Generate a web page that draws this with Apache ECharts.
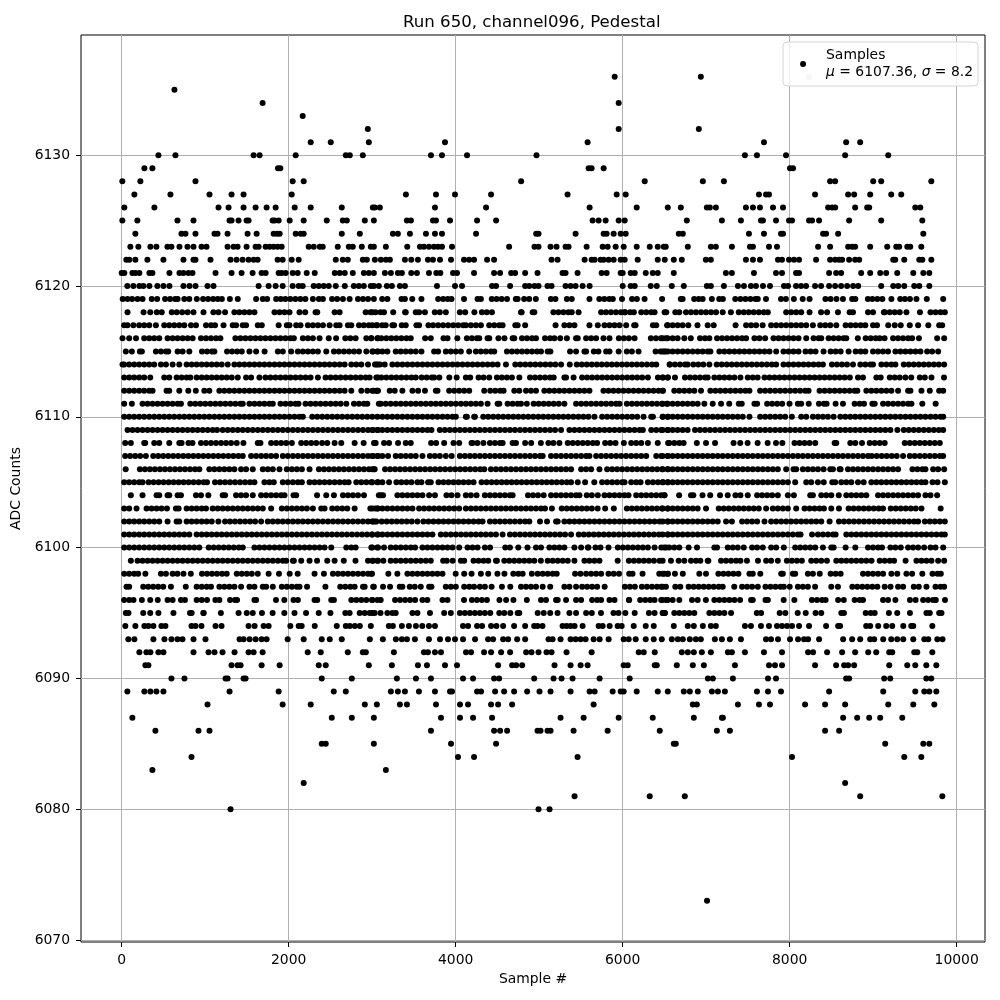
<!DOCTYPE html>
<html><head><meta charset="utf-8">
<style>html,body{margin:0;padding:0;background:#fff}#c{width:1000px;height:1000px}</style>
<script src="https://cdn.jsdelivr.net/npm/echarts@6/dist/echarts.min.js"></script>
</head><body><div id="c"></div>
<script>
// Sample positions, one list per ADC level. Isolated dots are read individually;
// inside solid bands, where dots overlap, individual samples cannot be told apart, so positions are estimates.
const xTicks=[0,2000,4000,6000,8000,10000];
const yTicks=[6070,6080,6090,6100,6110,6120,6130];
const s6136=[5904,6936];
const s6135=[632];
const s6134=[1688,5952];
const s6133=[2168];
const s6132=[2948,5952,6912];
const s6131=[2264,2504,2960,3872,5580,7692,8676,8844];
const s6130=[440,644,1580,1652,2084,2684,2732,2888,3704,3836,4136,4968,7464,7608,7956,8664,9180];
const s6129=[272,368,1872,1900,5592,5628,5772,8004,8040];
const s6128=[8,224,884,2048,2180,4784,6264,6960,7212,8484,8544,9000,9096,9696];
const s6127=[152,584,1052,1316,1460,2036,3404,3764,3992,4424,5340,5928,6036,7632,7716,7752,8304,8700,8772,8964,9216,9336];
const s6126=[32,392,1160,1280,1460,1604,1736,1844,2072,2264,2636,3008,3032,3092,3752,4364,5604,6168,6540,6696,7008,7044,7116,7476,7560,7644,7800,7920,8460,8508,8544,8784,8928,8952,9504,9564];
const s6125=[8,188,668,860,1292,1316,1400,1496,1520,1808,1832,1880,2012,2180,2456,2648,2696,2912,3020,3416,3464,3728,3764,3932,4256,4484,5640,5712,5796,5952,6024,6768,7188,7416,7656,7680,7836,7992,8028,8232,8268,8352,8712,9096,9588];
const s6124=[164,716,764,884,1112,1148,1268,1508,1616,1820,1860,1892,2084,2144,2180,2636,2852,3248,3308,3452,3644,3752,3836,4244,4964,4992,5436,5772,5808,5892,5976,6036,6672,6720,7512,7692,7896,7920,8400,8436,8580,9600];
const s6123=[104,200,344,416,548,596,692,788,860,956,1016,1268,1340,1388,1496,1604,1640,1724,1772,1820,1868,1916,2240,2300,2372,2408,2588,2720,2768,2876,2984,3020,3164,3420,3572,3620,3680,3740,3788,3836,3956,4640,4944,4992,5136,5208,5316,5352,5568,5760,5820,5916,6012,6168,6324,6420,6492,6516,6780,7056,7116,7308,7524,7560,7752,7848,8340,8484,8700,8748,8784,8964,9168,9276,9312,9408,9444,9576];
const s6122=[56,92,164,308,500,740,860,884,1064,1304,1376,1448,1520,1580,1628,1868,1928,2036,2120,2564,2648,2708,2888,2936,3032,3104,3164,3212,3392,3468,3548,3668,3728,3812,3944,4100,4160,4220,4376,4460,5148,5220,5544,5628,5664,5736,5772,5832,5892,5976,6024,6180,6420,6504,6612,6708,6996,7056,7476,7560,7644,7860,7908,7992,8052,8112,8316,8484,8544,8592,8628,8712,8784,8832,9240,9264,9372,9552,9588,9696];
const s6121=[0,32,128,164,212,332,368,572,692,740,800,848,1124,1316,1436,1568,1676,1724,1880,1916,1964,2048,2108,2216,2312,2552,2612,2672,2768,2900,2960,3020,3152,3224,3308,3356,3468,3536,3680,3768,3816,3968,4016,4220,4460,4532,4664,4712,4832,4980,5280,5316,5460,5748,5808,5976,6000,6096,6144,6276,6360,6420,6612,7236,7308,7572,7836,7908,8076,8112,8472,8556,8616,8856,8964,9084,9156,9288,9480,9600,9672];
const s6120=[68,140,212,260,332,428,500,572,740,812,884,1028,1100,1640,1760,1844,1928,2048,2120,2168,2300,2360,2420,2480,2564,2672,2780,2840,2900,2984,3020,3080,3176,3236,3332,3392,3776,3992,4076,4436,4484,4652,4832,4880,4944,4992,5100,5148,5316,5376,5436,5520,5604,6000,6096,6144,6336,6408,6588,6732,7008,7056,7212,7380,7452,7536,7596,7680,7764,7932,7980,8076,8136,8196,8304,8376,8472,8544,8616,8688,8760,8820,9096,9240,9300,9372,9492,9552,9672];
const s6119=[12,70,125,190,250,360,425,520,580,640,670,750,810,900,975,1035,1095,1150,1200,1296,1390,1610,1690,1742,1850,1905,1960,2020,2080,2140,2200,2290,2362,2410,2520,2580,2650,2730,2830,2890,2950,3020,3120,3182,3352,3392,3480,3590,3790,3850,3905,3950,4100,4262,4302,4432,4490,4550,4615,4720,4742,4820,4880,4960,5140,5195,5332,5390,5602,5720,5780,5840,5882,5992,6112,6170,6262,6472,6696,6718,6856,6910,6958,7068,7156,7200,7348,7410,7470,7530,7590,7618,7716,7896,7955,8050,8156,8238,8428,8490,8560,8638,8748,8786,8936,8990,9050,9110,9218,9324,9380,9440,9518,9642,9838];
const s6118=[70,262,342,420,480,600,660,725,790,860,980,1098,1160,1238,1350,1410,1470,1530,1590,1830,1890,1950,2010,2130,2198,2322,2342,2550,2610,2922,2980,3040,3002,3100,3142,3252,3394,3402,3522,3562,3632,3750,3810,3882,4050,4114,4224,4314,4372,4434,4782,4790,4922,4942,5170,5230,5290,5350,5390,5472,5742,5800,5860,5920,5980,6022,6030,6090,6134,6222,6282,6342,6382,6502,6522,6630,6678,6758,6818,6878,6938,6998,7058,7118,7198,7296,7390,7450,7510,7570,7630,7690,7738,7958,8018,8078,8138,8238,8376,8448,8578,8718,8758,8938,8998,9128,9138,9198,9258,9318,9398,9560,9686,9746,9806,9858];
const s6117=[30,70,140,210,270,330,410,510,570,630,690,750,830,890,1010,1070,1118,1220,1330,1370,1450,1490,1630,1678,1880,1978,2010,2090,2142,2230,2290,2350,2410,2490,2570,2610,2710,2750,2842,2900,2960,3050,3002,3060,3120,3162,3242,3262,3354,3402,3530,3562,3674,3730,3790,3850,3910,3970,4030,4090,4122,4182,4242,4302,4402,4462,4522,4562,4714,4742,4832,5196,5302,5362,5422,5602,5702,5782,5842,5902,5962,6042,6138,6154,6362,6402,6532,6538,6598,6658,6718,6786,6896,7018,7090,7352,7478,7538,7598,7676,7778,7838,7898,7958,8018,8078,8138,8198,8278,8366,8426,8486,8558,8670,8730,8790,8850,8906,8998,9046,9180,9258,9330,9438,9538,9660,9790,9826];
const s6116=[10,90,172,270,330,390,450,550,610,670,730,790,850,950,1010,1070,1130,1182,1362,1422,1482,1542,1602,1662,1722,1782,1842,1902,1962,2022,2062,2170,2230,2290,2370,2480,2568,2678,2738,2802,2930,2990,3070,2990,3062,3110,3170,3230,3290,3350,3410,3462,3634,3702,3854,3902,4020,4134,4194,4254,4282,4382,4402,4512,4584,4682,4702,4794,4854,4914,4962,5070,5130,5182,5252,5332,5442,5462,5562,5622,5682,5770,5842,5954,6014,6074,6142,6338,6398,6458,6518,6478,6538,6598,6658,6738,6816,6926,6986,7038,7130,7190,7250,7310,7370,7430,7478,7578,7638,7706,7806,7866,7926,7986,8046,8106,8198,8286,8346,8378,8466,8526,8586,8646,8678,8816,8910,8970,9030,9078,9136,9238,9298,9358,9418,9466,9548,9766,9850];
const s6115=[50,122,218,242,410,470,530,558,670,730,810,962,1022,1082,1110,1262,1322,1382,1438,1530,1610,1712,1870,1930,2030,2110,2170,2230,2290,2350,2450,2542,2602,2662,2722,2782,2842,2930,3010,3070,3002,3062,3122,3182,3282,3342,3402,3462,3522,3590,3742,3790,3882,3942,4002,4062,4162,4242,4302,4362,4422,4462,4614,4674,4734,4794,4854,4914,4974,5022,5102,5134,5370,5442,5542,5562,5654,5710,5802,5842,5952,6050,6110,6190,6394,6454,6514,6542,6478,6498,6598,6658,6718,6778,6838,6898,6958,7018,7050,7158,7218,7278,7338,7398,7458,7518,7578,7638,7698,7758,7838,7926,7986,8046,8106,8190,8250,8310,8406,8490,8550,8610,8706,8790,8850,8906,8998,9058,9118,9178,9266,9326,9386,9446,9506,9566,9646,9706,9778];
const s6114=[10,30,90,150,210,270,330,390,470,530,610,690,778,838,898,958,1018,1078,1138,1198,1270,1350,1410,1470,1530,1590,1650,1710,1770,1830,1890,1950,2010,2070,2130,2190,2250,2310,2370,2430,2490,2550,2610,2670,2750,2810,2870,2950,3050,3070,3034,3094,3150,3242,3302,3362,3422,3482,3542,3602,3662,3722,3782,3842,3902,3962,4022,4082,4142,4202,4262,4322,4382,4442,4502,4602,4714,4774,4834,4894,4954,5014,5074,5134,5194,5262,5366,5450,5510,5570,5630,5690,5750,5810,5870,5930,5990,6050,6110,6170,6230,6290,6350,6402,6562,6566,6626,6686,6746,6778,6846,6906,6966,7038,7126,7186,7246,7306,7366,7426,7486,7546,7606,7666,7726,7786,7838,7926,7986,8046,8106,8166,8226,8286,8346,8398,8506,8566,8626,8686,8758,8846,8906,8966,8998,9098,9158,9218,9266,9366,9426,9486,9546,9606,9666,9726,9786,9850];
const s6113=[30,90,150,210,270,342,510,570,658,718,778,822,898,958,1018,1078,1138,1198,1258,1318,1390,1490,1550,1650,1722,1782,1842,1902,1962,2022,2082,2142,2202,2262,2350,2442,2502,2562,2622,2682,2742,2802,2862,2922,2970,3070,3050,3110,3170,3230,3290,3350,3410,3470,3522,3592,3652,3714,3742,3804,3924,4012,4122,4174,4274,4334,4402,4494,4554,4614,4674,4762,4890,4950,5010,5070,5130,5174,5302,5322,5412,5514,5574,5634,5694,5754,5814,5874,5934,5994,6054,6114,6174,6234,6302,6422,6482,6542,6478,6538,6626,6746,6806,6866,6926,6986,7018,7098,7158,7218,7278,7338,7410,7498,7558,7616,7698,7758,7818,7878,7938,7998,8058,8118,8178,8238,8298,8358,8418,8478,8538,8598,8658,8720,8818,8878,9038,9090,9198,9258,9318,9386,9456,9558,9618,9698,9848];
const s6112=[30,90,150,210,270,330,370,538,570,690,798,888,990,1050,1170,1230,1290,1350,1410,1470,1530,1590,1650,1710,1770,1830,1890,1950,2010,2070,2130,2190,2250,2310,2370,2430,2490,2550,2610,2670,2750,2870,2942,3018,3058,3070,3002,3054,3210,3270,3362,3482,3550,3632,3762,3782,3922,3982,4042,4102,4162,4342,4414,4474,4534,4574,4702,4762,4842,4902,4962,5062,5122,5182,5242,5302,5362,5422,5482,5542,5602,5770,5830,5890,5950,6010,6070,6130,6190,6250,6310,6370,6430,6482,6478,6618,6678,6738,6798,6858,6938,7050,7110,7170,7230,7290,7350,7410,7470,7518,7646,7706,7766,7826,7886,7946,8006,8066,8126,8186,8226,8358,8418,8478,8538,8598,8658,8718,8778,8810,8918,8978,9038,9098,9158,9218,9298,9418,9446,9578,9678,9790,9838];
const s6111=[30,122,250,310,370,430,490,550,610,670,710,822,882,942,1002,1062,1122,1182,1242,1302,1362,1422,1450,1530,1590,1650,1710,1770,1810,1902,1962,2022,2082,2118,2202,2262,2322,2382,2442,2502,2562,2622,2690,2782,2842,2902,2942,3080,3102,3162,3222,3282,3342,3402,3462,3522,3582,3642,3702,3762,3822,3882,3942,4002,4062,4122,4182,4242,4302,4382,4502,4522,4622,4682,4742,4782,4852,4934,4994,5054,5114,5174,5234,5302,5442,5502,5562,5622,5682,5742,5802,5862,5922,5962,6050,6110,6170,6230,6290,6350,6410,6470,6530,6478,6538,6598,6658,6718,6778,6838,6898,6978,7078,7178,7276,7390,7426,7578,7610,7730,7790,7850,7910,7998,8098,8138,8228,8350,8410,8442,8550,8638,8778,8838,8890,8990,9018,9118,9178,9238,9298,9358,9418,9458,9588,9748];
const s6110=[30,90,150,210,270,330,390,450,510,570,630,690,750,810,870,930,990,1050,1110,1170,1230,1290,1350,1410,1470,1530,1590,1650,1710,1770,1830,1890,1950,2010,2070,2130,2170,2282,2342,2402,2462,2522,2582,2642,2702,2762,2822,2882,2942,3002,3062,3122,3182,3242,3302,3362,3422,3482,3542,3602,3662,3722,3782,3842,3902,3962,4002,4122,4134,4222,4230,4330,4390,4450,4510,4570,4630,4690,4750,4810,4870,4930,4990,5050,5110,5170,5230,5290,5350,5410,5470,5530,5590,5662,5754,5814,5874,5934,5994,6054,6114,6174,6250,6342,6362,6482,6542,6478,6538,6598,6658,6718,6778,6838,6898,6958,7018,7078,7138,7198,7258,7318,7378,7438,7518,7646,7706,7766,7826,7886,7946,8026,8138,8198,8278,8338,8398,8458,8526,8606,8666,8726,8786,8846,8906,8966,9026,9086,9146,9206,9266,9326,9386,9446,9506,9566,9626,9686,9746,9806,9838];
const s6109=[70,130,190,250,310,370,430,490,550,610,670,730,790,850,910,970,1030,1090,1142,1210,1270,1330,1390,1450,1510,1570,1630,1690,1750,1810,1870,1930,1990,2050,2110,2170,2230,2290,2350,2410,2470,2530,2590,2650,2710,2770,2830,2890,2950,3010,3070,3002,3062,3122,3182,3242,3302,3362,3422,3482,3542,3602,3662,3710,3810,3870,3930,3990,4050,4110,4170,4230,4290,4350,4410,4470,4530,4590,4650,4710,4770,4830,4890,4950,5010,5070,5130,5190,5262,5362,5422,5482,5542,5602,5662,5722,5782,5842,5902,5962,6022,6082,6142,6202,6242,6342,6402,6462,6542,6478,6538,6598,6658,6718,6778,6866,6926,6986,7046,7106,7166,7226,7286,7346,7406,7466,7526,7586,7646,7706,7766,7826,7886,7946,8006,8066,8126,8186,8246,8306,8366,8426,8486,8546,8606,8666,8726,8786,8846,8906,8966,9026,9086,9146,9206,9290,9366,9426,9486,9546,9606,9666,9726,9786,9838];
const s6108=[42,110,270,282,390,450,570,690,718,800,848,950,1010,1070,1130,1190,1250,1310,1378,1458,1630,1662,1790,1850,1910,1970,2038,2150,2210,2270,2330,2400,2462,2550,2630,2790,2898,3042,3022,3030,3142,3202,3310,3402,3462,3706,3766,3862,3974,4042,4202,4190,4260,4332,4410,4470,4530,4562,4682,4722,4832,4904,5020,5110,5170,5242,5342,5402,5462,5522,5582,5642,5694,5790,5850,5914,6014,6102,6162,6222,6302,6420,6544,6558,6618,6678,6730,6888,6998,7106,7328,7408,7496,7616,7736,7836,7912,8058,8118,8178,8238,8306,8538,8558,8726,8786,8866,8958,9018,9078,9138,9378,9438,9498,9558,9618,9678,9738,9798];
const s6107=[42,102,162,222,290,378,438,498,558,618,678,738,798,858,918,978,1038,1098,1158,1218,1278,1338,1398,1450,1550,1610,1670,1730,1790,1850,1930,1990,2050,2110,2170,2230,2290,2350,2410,2470,2530,2590,2650,2710,2770,2830,2890,2950,3010,3070,3002,3062,3122,3190,3282,3342,3402,3462,3522,3602,3690,3750,3810,3882,3952,4050,4110,4170,4230,4290,4350,4410,4470,4530,4590,4650,4710,4770,4830,4890,4950,5010,5042,5142,5202,5262,5322,5382,5442,5502,5562,5602,5682,5742,5802,5862,5922,5982,6042,6102,6162,6222,6282,6402,6462,6542,6478,6538,6598,6658,6718,6778,6838,6898,6958,7018,7078,7138,7198,7258,7318,7378,7438,7498,7558,7618,7678,7738,7798,7858,7918,7978,8038,8098,8158,8218,8278,8338,8398,8458,8518,8578,8638,8698,8758,8818,8878,8938,8982,9042,9102,9162,9222,9282,9358,9438,9498,9558,9618,9678,9738,9798,9838];
const s6106=[48,218,278,338,398,458,518,578,638,698,758,818,878,930,1050,1110,1170,1230,1290,1350,1430,1490,1570,1690,1750,1810,1890,1978,2038,2098,2158,2250,2362,2422,2482,2542,2602,2662,2722,2782,2842,2902,2962,3030,3002,3022,3154,3214,3274,3334,3394,3454,3514,3574,3634,3694,3754,3814,3874,3934,3994,4054,4114,4174,4234,4294,4342,4422,4482,4542,4602,4662,4722,4782,4842,4902,4962,5022,5082,5142,5202,5262,5322,5382,5502,5562,5622,5722,5814,5874,5934,5994,6054,6114,6174,6234,6294,6354,6414,6474,6542,6478,6538,6598,6658,6718,6778,6838,6898,6958,7018,7078,7138,7198,7258,7318,7378,7438,7498,7558,7618,7678,7738,7798,7858,7958,8046,8078,8158,8218,8278,8338,8406,8486,8518,8598,8610,8698,8758,8818,8878,8938,8998,9058,9118,9178,9238,9298,9470,9530,9590,9626,9718,9778,9850];
const s6105=[30,90,150,210,250,322,382,442,502,562,622,682,742,802,862,922,982,1022,1118,1178,1238,1298,1358,1418,1478,1538,1590,1710,1770,1822,1930,1990,2050,2110,2158,2250,2310,2370,2430,2490,2550,2610,2670,2718,2810,2870,2930,2990,3070,3002,3062,3122,3202,3290,3350,3410,3470,3542,3590,3670,3702,3794,3854,3914,3974,4034,4094,4154,4214,4310,4370,4430,4490,4550,4610,4670,4730,4790,4850,4910,4970,5030,5090,5150,5210,5270,5330,5382,5462,5550,5660,5754,5814,5874,5934,5994,6022,6102,6162,6214,6302,6362,6422,6482,6542,6478,6538,6598,6658,6718,6778,6838,6898,6958,7018,7078,7138,7198,7258,7318,7378,7438,7498,7558,7618,7678,7738,7798,7858,7918,7978,8066,8198,8258,8338,8408,8510,8546,8618,8678,8738,8818,8886,8978,9038,9098,9158,9218,9278,9338,9398,9458,9518,9578,9626,9710,9770,9858];
const s6104=[110,250,418,450,550,570,670,710,890,950,1038,1210,1238,1370,1430,1490,1570,1670,1730,1790,1850,1910,1950,2058,2090,2340,2450,2542,2650,2710,2770,2830,2902,3080,3102,3130,3302,3362,3422,3482,3542,3602,3682,3752,3890,3950,4022,4122,4182,4250,4350,4410,4470,4530,4590,4650,4682,4866,4926,4986,5054,5142,5202,5262,5322,5382,5442,5482,5570,5630,5702,5782,5842,5902,5962,6022,6070,6162,6222,6282,6342,6402,6462,6502,6498,6676,6818,6846,6956,7048,7166,7258,7350,7410,7498,7610,7670,7730,7790,7858,7978,8050,8246,8278,8378,8438,8498,8588,8678,8738,8798,8858,8918,9058,9118,9178,9238,9298,9358,9418,9478,9538,9626,9686,9766];
const s6103=[30,90,178,298,358,418,478,542,650,682,778,838,898,958,1010,1090,1150,1210,1270,1330,1390,1450,1510,1570,1630,1690,1790,1918,1978,2038,2098,2158,2218,2290,2390,2430,2522,2582,2642,2702,2790,2978,3038,3070,3002,3062,3122,3182,3242,3302,3362,3422,3482,3562,3622,3682,3742,3802,3862,3922,3982,4042,4122,4182,4242,4302,4362,4422,4482,4542,4602,4662,4722,4782,4842,4902,4962,5022,5070,5152,5270,5330,5390,5450,5510,5570,5630,5700,5790,5894,6050,6110,6170,6230,6290,6350,6410,6470,6542,6478,6538,6598,6658,6718,6778,6838,6898,6998,7150,7210,7270,7330,7390,7450,7510,7570,7630,7718,7798,7858,7918,7978,8078,8178,8238,8298,8358,8410,8498,8590,8706,8766,8826,8886,8946,9006,9066,9118,9210,9270,9330,9390,9450,9510,9578,9808];
const s6102=[30,90,150,210,270,330,390,450,550,658,690,778,838,898,958,1018,1078,1158,1238,1298,1358,1418,1478,1538,1598,1670,1750,1810,1870,1930,1990,2050,2110,2170,2230,2290,2350,2410,2470,2530,2590,2650,2710,2770,2830,2890,2950,3010,3050,3002,3030,3114,3174,3234,3294,3354,3414,3474,3542,3614,3674,3734,3794,3854,3914,3974,4034,4094,4154,4214,4274,4322,4410,4470,4530,4590,4650,4710,4770,4830,4882,5010,5094,5202,5222,5302,5362,5422,5482,5542,5602,5662,5722,5782,5842,5902,5962,6022,6082,6142,6202,6262,6322,6382,6442,6542,6478,6538,6598,6658,6718,6778,6838,6898,6958,7018,7078,7138,7238,7308,7430,7490,7550,7610,7698,7778,7838,7898,7958,8018,8078,8138,8198,8258,8318,8378,8478,8590,8650,8710,8770,8830,8890,8950,9010,9070,9130,9190,9250,9310,9370,9430,9490,9538,9618,9678,9738,9798,9858];
const s6101=[30,90,150,210,270,330,390,450,510,570,630,690,750,810,898,958,1018,1078,1138,1198,1258,1318,1378,1438,1498,1558,1618,1678,1738,1798,1858,1918,1978,2038,2098,2158,2218,2278,2338,2398,2458,2518,2578,2638,2698,2758,2818,2878,2938,2998,3070,3002,3062,3122,3182,3242,3302,3362,3422,3482,3542,3602,3662,3722,3822,3882,3942,4002,4062,4122,4182,4242,4302,4362,4422,4482,4562,4650,4710,4770,4830,4890,4950,5010,5070,5130,5190,5250,5310,5382,5474,5534,5594,5654,5714,5774,5834,5894,5954,6014,6074,6134,6194,6254,6314,6374,6434,6542,6478,6538,6598,6658,6718,6778,6838,6898,6958,7018,7078,7138,7198,7258,7318,7378,7438,7498,7558,7618,7678,7738,7798,7858,7918,7978,8038,8098,8130,8268,8338,8398,8458,8518,8550,8678,8738,8798,8858,8918,8978,9038,9098,9158,9218,9278,9338,9398,9458,9518,9578,9638,9698,9758,9818,9858];
const s6100=[30,90,150,210,270,330,390,450,510,570,630,690,750,810,870,930,1042,1102,1162,1222,1282,1342,1402,1450,1590,1650,1710,1770,1830,1890,1950,2010,2070,2130,2190,2250,2310,2370,2430,2510,2690,2750,2802,2990,3070,3002,3062,3142,3222,3282,3342,3402,3462,3514,3602,3662,3722,3782,3842,3902,3962,4042,4142,4202,4262,4350,4412,4594,4650,4750,4860,4962,5022,5122,5182,5242,5302,5422,5502,5582,5590,5674,5734,5830,5942,6002,6062,6122,6182,6242,6302,6382,6462,6522,6498,6558,6618,6678,6790,6890,7098,7130,7258,7318,7378,7450,7550,7610,7678,7778,7838,7930,8066,8126,8186,8246,8306,8398,8498,8526,8670,8786,8938,8998,9058,9106,9206,9266,9330,9418,9478,9538,9610,9686,9746,9838];
const s6099=[110,190,250,310,370,430,490,550,610,670,730,790,850,910,970,1030,1090,1150,1210,1270,1330,1390,1450,1510,1570,1630,1690,1750,1810,1870,1930,1970,2050,2062,2150,2250,2340,2462,2550,2660,2800,2950,3010,3070,3002,3062,3134,3222,3282,3342,3402,3462,3522,3582,3642,3702,3850,3894,3964,4062,4102,4214,4274,4334,4390,4482,4494,4582,4642,4702,4762,4822,4882,4942,5020,5102,5162,5222,5282,5342,5422,5542,5602,5662,5722,5940,6074,6134,6194,6254,6314,6374,6442,6478,6578,6670,6738,6818,6878,6930,7018,7026,7178,7238,7298,7358,7410,7488,7620,7718,7778,7858,7966,8026,8086,8146,8258,8318,8378,8446,8558,8618,8678,8738,8798,8858,8918,8980,9078,9138,9198,9250,9388,9518,9578,9638,9698,9778,9850];
const s6098=[30,90,150,198,284,470,530,610,668,740,828,962,1022,1082,1142,1202,1258,1378,1438,1498,1558,1630,1760,1884,2012,2108,2310,2422,2530,2590,2650,2710,2770,2830,2890,2950,2998,2990,3194,3302,3422,3482,3542,3602,3662,3722,3782,3842,4000,4102,4190,4302,4390,4500,4584,4690,4750,4802,4912,4982,5042,5102,5162,5210,5430,5494,5562,5622,5682,5742,5830,5892,5956,6078,6118,6238,6438,6498,6542,6478,6538,6626,6720,6918,6998,7146,7206,7266,7326,7386,7518,7558,7648,7898,7918,8038,8066,8218,8278,8360,8490,8550,8610,8878,8938,8998,9058,9118,9218,9288,9398,9466,9588,9710,9770,9810];
const s6097=[58,90,258,318,378,438,498,590,768,898,958,1018,1070,1170,1230,1290,1350,1430,1530,1590,1690,1730,1810,1918,1978,2038,2098,2130,2220,2440,2618,2678,2738,2790,2890,2910,3020,3012,3130,3214,3330,3362,3450,3510,3582,3682,3710,3882,3942,4002,4102,4164,4220,4290,4350,4430,4554,4654,4782,4842,4902,4962,5042,5132,5302,5362,5442,5514,5574,5634,5694,5784,6026,6086,6146,6230,6290,6350,6410,6462,6478,6518,6630,6690,6790,6850,6910,6970,7030,7090,7150,7198,7336,7430,7490,7550,7618,7710,7770,7830,7890,7930,8000,8098,8158,8218,8304,8498,8578,8750,8810,8870,8930,8990,9050,9138,9208,9298,9358,9486,9546,9638,9746,9806,9850];
const s6096=[30,90,142,242,342,432,550,610,710,758,898,958,1022,1122,1170,1298,1358,1382,1590,1610,1848,1948,2058,2110,2310,2342,2510,2542,2750,2810,2870,2930,2998,3002,3062,3102,3274,3334,3394,3454,3514,3602,3660,3842,3902,4100,4194,4254,4314,4374,4524,4604,4692,4852,5022,5082,5202,5222,5322,5442,5502,5634,5694,5742,5842,5902,6074,6078,6210,6270,6330,6382,6462,6522,6478,6538,6598,6678,6830,6898,6996,7098,7158,7218,7278,7338,7406,7538,7558,7710,7738,7928,8056,8266,8326,8386,8430,8580,8648,8778,8838,8878,9118,9178,9266,9440,9508,9598,9658,9718,9750,9860];
const s6095=[50,82,258,342,440,620,818,838,978,982,1188,1400,1498,1570,1680,1808,1948,2070,2208,2360,2500,2678,2730,2850,2910,2970,3030,3002,3100,3182,3242,3282,3482,3542,3692,3862,3942,4050,4110,4170,4230,4290,4350,4414,4522,4582,4654,4742,4762,4982,5054,5132,5220,5362,5442,5562,5630,5740,5890,5950,6032,6144,6314,6382,6482,6502,6478,6506,6618,6678,6738,6798,6858,7038,7098,7158,7218,7298,7606,7658,7880,7948,8096,8192,8310,8378,8618,8650,8910,8970,9018,9188,9288,9440,9638,9678,9790,9818];
const s6094=[44,164,272,320,380,476,524,836,884,956,1124,1196,1520,1592,1700,1760,2020,2120,2156,2312,2576,2684,2732,2792,2852,2984,3200,3248,3356,3440,3524,3600,3680,3752,4088,4148,4256,4316,4424,4488,4568,4700,4832,4940,4980,5040,5280,5328,5376,5424,5520,5712,5760,5844,5940,5988,6132,6276,6372,6612,6780,6852,6960,7056,7116,7464,7536,7656,7752,7848,7908,7968,8028,8112,8232,8436,8580,8604,8916,8964,9060,9156,9228,9360,9456,9480,9708];
const s6093=[80,152,380,512,596,668,728,860,1004,1412,1460,1532,1604,1676,1736,1988,2180,2396,2492,2636,2972,3128,3284,3356,3416,3512,3680,3812,3908,3992,4088,4232,4388,4448,4568,4628,4736,4832,5112,5160,5256,5376,5436,5496,5556,5652,5724,5832,6012,6072,6156,6276,6372,6468,6588,6660,6720,6804,6876,6936,7104,7188,7284,7416,7716,7776,7860,8004,8100,8172,8220,8352,8640,8748,8844,8964,9012,9120,9216,9288,9360,9480,9612,9660,9768,9830];
const s6092=[212,296,344,440,500,860,1040,1112,1208,1352,1520,1580,1688,2228,2384,2708,2888,2924,3260,3620,3668,3752,3824,4124,4184,4340,4424,4544,4652,4844,4908,4992,5088,5148,5328,5628,6192,6252,6384,6708,6780,6852,6948,7056,7260,7308,7464,7692,7908,8220,8280,8448,8628,8784,8940,9036,9192,9228,9492,9528,9708];
const s6091=[284,320,1316,1388,1424,1676,1892,2360,2444,2960,3236,3548,3656,3872,4016,4508,4676,4724,4796,5184,5376,5496,5580,6012,6060,6384,6408,6648,6840,6972,7344,7752,7824,7908,8304,8556,8652,8700,8772,9192,9408,9504,9636,9756];
const s6090=[596,752,1244,1268,1460,1484,2396,2756,3296,3524,3704,4088,4208,4460,4520,4940,5172,5268,5400,5724,6084,7020,7080,7320,7740,7836,8676,8712,9132,9204,9636,9696];
const s6089=[68,272,344,416,500,1292,1880,2540,2684,3224,3308,3392,3560,3752,3932,3956,4256,4304,4472,4580,4700,4856,5004,5136,5376,5604,5664,5880,5976,6012,6168,6420,6540,6732,6804,6900,7068,7140,7224,7608,7740,7896,8472,9120,9504,9612,9672,9756];
const s6088=[1028,1928,2264,2912,3056,3332,3416,3764,4052,4148,4424,4508,4676,5652,6840,6888,7380,7632,7764,8184,8424,8664,9180,9480,9732];
const s6087=[128,2516,2756,3020,3824,4052,4208,4436,5256,5532,5952,6360,6852,7188,7200,8640,8808,8952,9084,9348];
const s6086=[404,920,1052,3704,4460,4532,4616,4980,5016,5100,5136,5412,5820,6444,7128,7284,8424,8592];
const s6085=[2396,2444,3020,3944,4484,6612,6636,9144,9600,9672];
const s6084=[836,4028,4220,5460,8028,9372,9576];
const s6083=[368,3164];
const s6082=[2180,8664];
const s6081=[5424,6324,6744,8844,9828];
const s6080=[1304,4992,5124];
const s6073=[7010];
const levels=[6136,6135,6134,6133,6132,6131,6130,6129,6128,6127,6126,6125,6124,6123,6122,6121,6120,6119,6118,6117,6116,6115,6114,6113,6112,6111,6110,6109,6108,6107,6106,6105,6104,6103,6102,6101,6100,6099,6098,6097,6096,6095,6094,6093,6092,6091,6090,6089,6088,6087,6086,6085,6084,6083,6082,6081,6080,6073];
const samples=[s6136,s6135,s6134,s6133,s6132,s6131,s6130,s6129,s6128,s6127,s6126,s6125,s6124,s6123,s6122,s6121,s6120,s6119,s6118,s6117,s6116,s6115,s6114,s6113,s6112,s6111,s6110,s6109,s6108,s6107,s6106,s6105,s6104,s6103,s6102,s6101,s6100,s6099,s6098,s6097,s6096,s6095,s6094,s6093,s6092,s6091,s6090,s6089,s6088,s6087,s6086,s6085,s6084,s6083,s6082,s6081,s6080,s6073];
const titleText='Run 650, channel096, Pedestal';
const xName='Sample #', yName='ADC Counts';
const legendName='Samples', mu='6107.36', sigma='8.2';

const points=[];
samples.forEach((row,i)=>row.forEach(x=>points.push([x,levels[i]])));
const F='"DejaVu Sans"';
const chart=echarts.init(document.getElementById('c'),null,{renderer:'canvas'});
const axisCommon={
  axisLine:{show:false,onZero:false},
  axisTick:{show:true,length:5,lineStyle:{color:'#000',width:1}},
  splitLine:{show:true,lineStyle:{color:'#b0b0b0',width:1}}
};
chart.setOption({
  animation:false,
  backgroundColor:'#fff',
  title:{text:titleText,left:398,top:9,textStyle:{fontFamily:F,fontSize:16.6,fontWeight:'normal',color:'#000'}},
  grid:{left:81,right:15,top:35,bottom:58,show:true,borderColor:'#000',borderWidth:1,backgroundColor:'#fff'},
  legend:{show:true,right:22,top:42,orient:'vertical',backgroundColor:'rgba(255,255,255,0.8)',borderColor:'#d5d5d5',borderWidth:1,
    borderRadius:4,padding:[5,5,5,17],itemWidth:36,itemHeight:6,itemGap:0,icon:'circle',
    data:[{name:legendName}],
    formatter:()=>legendName+'\n{i|\u03bc} = '+mu+', {i|\u03c3} = '+sigma,
    textStyle:{fontFamily:F,fontSize:13.9,color:'#000',lineHeight:17,rich:{i:{fontFamily:F,fontStyle:'italic',fontSize:13.9,color:'#000'}}}},
  xAxis:Object.assign({},axisCommon,{type:'value',min:-487,max:10339,
    name:xName,nameLocation:'middle',nameGap:29,nameTextStyle:{fontFamily:F,fontSize:13.9,color:'#000'},
    axisTick:Object.assign({},axisCommon.axisTick,{customValues:xTicks}),
    axisLabel:{fontFamily:F,fontSize:13.9,color:'#000',margin:11,customValues:xTicks,formatter:v=>String(v)}}),
  yAxis:Object.assign({},axisCommon,{type:'value',min:6069.85,max:6139.19,
    name:yName,nameLocation:'middle',nameGap:50,nameTextStyle:{fontFamily:F,fontSize:13.9,color:'#000'},
    axisTick:Object.assign({},axisCommon.axisTick,{customValues:yTicks}),
    axisLabel:{fontFamily:F,fontSize:13.9,color:'#000',margin:11,customValues:yTicks,formatter:v=>String(v)}}),
  series:[{type:'scatter',name:legendName,data:points,symbol:'circle',symbolSize:6,large:false,itemStyle:{color:'#000',opacity:1},emphasis:{disabled:true},silent:true}],
  graphic:[{type:'circle',z:100,left:806,top:74,shape:{r:3},style:{fill:'#cccccc'},silent:true}]
});
</script></body></html>
